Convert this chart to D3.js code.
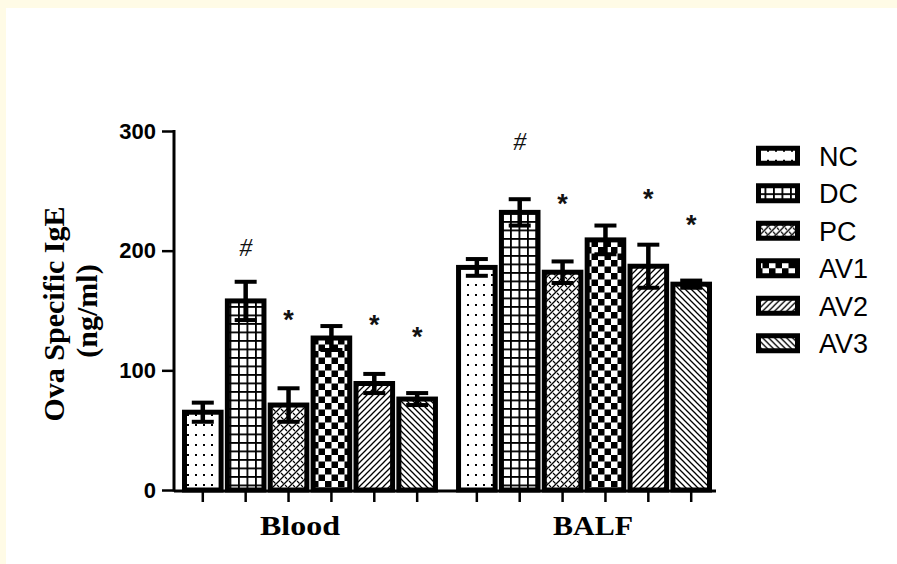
<!DOCTYPE html>
<html>
<head>
<meta charset="utf-8">
<script src="https://cdn.jsdelivr.net/npm/d3@7"></script>
<style>
	html, body { margin: 0; padding: 0; background: #fff; }
	svg { display: block; }
</style>
</head>
<body>
<svg id="chart"></svg>
<script>
const groups = ['Blood', 'BALF']
const series = ['NC', 'DC', 'PC', 'AV1', 'AV2', 'AV3']
const bloodMeans = [65, 158, 71, 127, 89, 76]
const bloodErrors = [8, 16, 14, 10, 8, 5]
const balfMeans = [186, 232, 182, 209, 187, 172]
const balfErrors = [7, 11, 9, 12, 18, 3]
const bloodMarks = ['', '#', '*', '', '*', '*']
const bloodMarkAt = [0, 203, 148, 0, 144, 134]
const balfMarks = ['', '#', '*', '', '*', '*']
const balfMarkAt = [0, 292, 245, 0, 249, 227]
const yTicks = [0, 100, 200, 300]

const outerWidth = 897
const outerHeight = 564
const sans = 'Liberation Sans, Arial, sans-serif'
const serif = 'Liberation Serif, Times New Roman, serif'

const svg = d3.select('#chart')
	.attr('width', outerWidth)
	.attr('height', outerHeight)

// cream strips at the top and left edge
svg.append('rect').attr('x', 0).attr('y', 0).attr('width', outerWidth).attr('height', 8).attr('fill', '#fffbe6')
svg.append('rect').attr('x', 0).attr('y', 0).attr('width', 6).attr('height', outerHeight).attr('fill', '#fffbe6')

// fill patterns
const defs = svg.append('defs')
function pattern(id, w, h) {
	return defs.append('pattern')
		.attr('id', id)
		.attr('patternUnits', 'userSpaceOnUse')
		.attr('width', w)
		.attr('height', h)
}
let p = pattern('pat-NC', 8, 10)
p.append('rect').attr('width', 8).attr('height', 10).attr('fill', '#fff')
p.append('rect').attr('x', 3).attr('y', 4).attr('width', 2).attr('height', 2).attr('fill', '#000')

p = pattern('pat-DC', 8.5, 8.5)
p.append('rect').attr('width', 8.5).attr('height', 8.5).attr('fill', '#fff')
p.append('rect').attr('x', 0).attr('y', 0).attr('width', 8.5).attr('height', 1.8).attr('fill', '#000')
p.append('rect').attr('x', 0).attr('y', 0).attr('width', 1.8).attr('height', 8.5).attr('fill', '#000')

p = pattern('pat-PC', 8, 8)
p.append('rect').attr('width', 8).attr('height', 8).attr('fill', '#fff')
p.append('path').attr('d', 'M-1,9 L9,-1 M-1,1 L1,-1 M7,9 L9,7').attr('stroke', '#000').attr('stroke-width', 1.3)
p.append('path').attr('d', 'M1,1 L3.5,3.5 M5,5 L7,7').attr('stroke', '#000').attr('stroke-width', 1.1)

p = pattern('pat-AV1', 13, 13)
p.append('rect').attr('width', 13).attr('height', 13).attr('fill', '#fff')
p.append('rect').attr('x', 0).attr('y', 0).attr('width', 6.5).attr('height', 6.5).attr('fill', '#000')
p.append('rect').attr('x', 6.5).attr('y', 6.5).attr('width', 6.5).attr('height', 6.5).attr('fill', '#000')

p = pattern('pat-AV2', 6, 6)
p.append('rect').attr('width', 6).attr('height', 6).attr('fill', '#fff')
p.append('path').attr('d', 'M-1,7 L7,-1 M-1,1 L1,-1 M5,7 L7,5').attr('stroke', '#000').attr('stroke-width', 1.3)

p = pattern('pat-AV3', 6, 6)
p.append('rect').attr('width', 6).attr('height', 6).attr('fill', '#fff')
p.append('path').attr('d', 'M-1,-1 L7,7 M5,-1 L7,1 M-1,5 L1,7').attr('stroke', '#000').attr('stroke-width', 1.3)

// scales
const yScale = d3.scaleLinear()
	.domain([0, 300])
	.range([490, 131])
const groupScale = d3.scaleBand()
	.domain(groups)
	.range([182, 712])
	.paddingInner(0.066)
const seriesScale = d3.scaleBand()
	.domain(series)
	.range([0, groupScale.bandwidth()])
	.paddingInner(0.03)

const tableOf = {
	Blood: { means: bloodMeans, errors: bloodErrors, marks: bloodMarks, markAt: bloodMarkAt },
	BALF: { means: balfMeans, errors: balfErrors, marks: balfMarks, markAt: balfMarkAt },
}
const rows = []
groups.forEach(g => {
	series.forEach((s, i) => {
		rows.push({
			group: g, key: s,
			mean: tableOf[g].means[i],
			err: tableOf[g].errors[i],
			mark: tableOf[g].marks[i],
			markAt: tableOf[g].markAt[i],
		})
	})
})
const cx = d => groupScale(d.group) + seriesScale(d.key) + seriesScale.bandwidth() / 2

// bars
const sw = 5
svg.append('g').selectAll('rect')
	.data(rows)
	.join('rect')
	.attr('x', d => groupScale(d.group) + seriesScale(d.key) + sw / 2)
	.attr('y', d => yScale(d.mean))
	.attr('width', seriesScale.bandwidth() - sw)
	.attr('height', d => yScale(0) - yScale(d.mean))
	.attr('fill', d => `url(#pat-${d.key})`)
	.attr('stroke', '#000')
	.attr('stroke-width', sw)

// error bars
const capW = 22
const eg = svg.append('g').attr('stroke', '#000')
eg.selectAll('line.stem')
	.data(rows)
	.join('line')
	.attr('class', 'stem')
	.attr('x1', cx).attr('x2', cx)
	.attr('y1', d => yScale(d.mean + d.err))
	.attr('y2', d => yScale(d.mean - d.err))
	.attr('stroke-width', 4.5)
eg.selectAll('line.cap-top')
	.data(rows)
	.join('line')
	.attr('class', 'cap-top')
	.attr('x1', d => cx(d) - capW / 2).attr('x2', d => cx(d) + capW / 2)
	.attr('y1', d => yScale(d.mean + d.err)).attr('y2', d => yScale(d.mean + d.err))
	.attr('stroke-width', 4)
eg.selectAll('line.cap-bottom')
	.data(rows)
	.join('line')
	.attr('class', 'cap-bottom')
	.attr('x1', d => cx(d) - capW / 2).attr('x2', d => cx(d) + capW / 2)
	.attr('y1', d => yScale(d.mean - d.err)).attr('y2', d => yScale(d.mean - d.err))
	.attr('stroke-width', 4)

// significance marks
svg.append('g').selectAll('text')
	.data(rows.filter(d => d.mark))
	.join('text')
	.attr('x', cx)
	.attr('y', d => yScale(d.markAt) + (d.mark === '#' ? 9 : 16))
	.attr('text-anchor', 'middle')
	.attr('font-family', d => d.mark === '#' ? serif : sans)
	.attr('font-style', d => d.mark === '#' ? 'italic' : 'normal')
	.attr('font-weight', d => d.mark === '#' ? 'normal' : 'bold')
	.attr('font-size', d => d.mark === '#' ? 26 : 27)
	.attr('fill', '#111')
	.text(d => d.mark)

// y axis
const yAxis = d3.axisLeft(yScale)
	.tickValues(yTicks)
	.tickSize(12)
	.tickPadding(6)
	.tickSizeOuter(0)
const yAxisGroup = svg.append('g')
	.attr('transform', 'translate(174,0)')
	.call(yAxis)
yAxisGroup.select('.domain').attr('stroke-width', 3).attr('d', `M0,${yScale(300) - 1}V${yScale(0) + 1.5}`)
yAxisGroup.selectAll('.tick line').attr('stroke-width', 2.5)
yAxisGroup.selectAll('.tick text')
	.attr('font-family', sans)
	.attr('font-weight', 'bold')
	.attr('font-size', 22)
	.attr('fill', '#000')

// x axis baseline and ticks
svg.append('line')
	.attr('x1', 174).attr('x2', groupScale.range()[1] + 4)
	.attr('y1', yScale(0) + 1).attr('y2', yScale(0) + 1)
	.attr('stroke', '#000').attr('stroke-width', 3)
groups.forEach(g => {
	const xAxis = d3.axisBottom(seriesScale)
		.tickSize(12)
		.tickSizeOuter(0)
		.tickFormat('')
	const ag = svg.append('g')
		.attr('transform', `translate(${groupScale(g)},${yScale(0)})`)
		.call(xAxis)
	ag.select('.domain').remove()
	ag.selectAll('.tick line').attr('stroke-width', 2.5)
})

// group labels
const labelDx = [-10, 9]
svg.append('g').selectAll('text')
	.data(groups)
	.join('text')
	.attr('x', (d, i) => groupScale(d) + groupScale.bandwidth() / 2 + labelDx[i])
	.attr('y', 535)
	.attr('text-anchor', 'middle')
	.attr('font-family', serif)
	.attr('font-weight', 'bold')
	.attr('font-size', 28)
	.attr('textLength', 80)
	.attr('lengthAdjust', 'spacingAndGlyphs')
	.text(d => d)

// y axis title
const title = svg.append('g')
	.attr('font-family', serif)
	.attr('font-weight', 'bold')
	.attr('font-size', 30)
	.attr('text-anchor', 'middle')
title.append('text')
	.attr('transform', 'translate(64,314) rotate(-90)')
	.text('Ova Specific IgE')
title.append('text')
	.attr('transform', 'translate(97,311) rotate(-90)')
	.text('(ng/ml)')

// legend
const legendY = d3.scaleBand()
	.domain(series)
	.range([137, 362])
const legend = svg.append('g').selectAll('g')
	.data(series)
	.join('g')
	.attr('transform', d => `translate(756,${legendY(d) + legendY.bandwidth() / 2})`)
legend.append('rect')
	.attr('x', 2.5).attr('y', -7.5)
	.attr('width', 39).attr('height', 15)
	.attr('fill', d => `url(#pat-${d})`)
	.attr('stroke', '#000')
	.attr('stroke-width', 5)
legend.append('text')
	.attr('x', 63)
	.attr('y', 10)
	.attr('font-family', sans)
	.attr('font-size', 27)
	.attr('fill', '#000')
	.text(d => d)
</script>
</body>
</html>
